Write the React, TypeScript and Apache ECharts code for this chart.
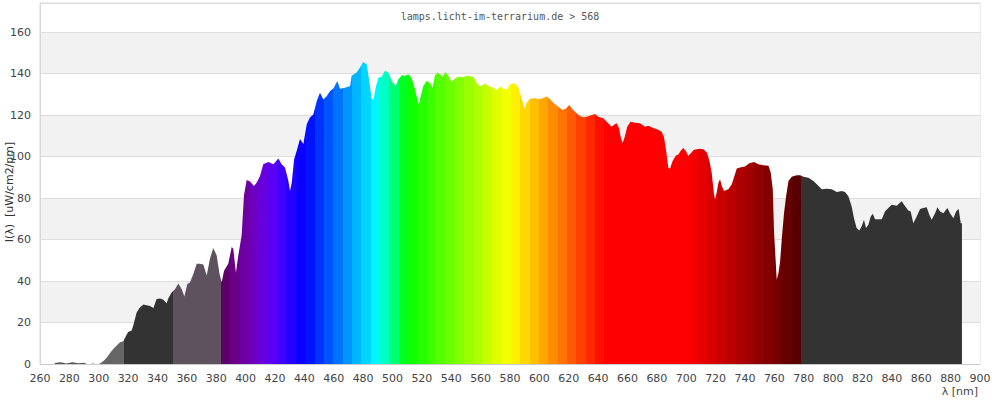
import React, { useEffect, useRef } from "react";
import * as echarts from "echarts";

// Wavelength (nm) sample positions
const wavelengths = [
  270, 274, 278, 282, 286, 290, 293, 296, 299, 300.8, 303, 305.4, 307.7, 310, 312.2, 314.5, 316.7,
  318, 320, 322.4, 323.5, 325.8, 328, 330.4, 332.6, 334.9, 337.2, 339.4, 341.7, 344, 346.2, 347.4, 349.6,
  351.9, 354.2, 356.5, 358.3, 360.3, 362.1, 364.4, 366.7, 368.9, 371.2, 373.5, 375.7, 378, 380.3, 382.1,
  383.7, 385.3, 388.2, 390.5, 391.6, 393.4, 395, 397.3, 398.9, 400.7, 403, 405.7, 407.5, 409.8, 412,
  415.5, 418.9, 422.3, 424.5, 426.8, 429.1, 430.2, 431.4, 433, 434.8, 437, 439.3, 441.6, 443.8, 446.1,
  448.4, 450.6, 452.9, 455.2, 457.4, 460, 462.4, 464.3, 467.7, 471.1, 472.2, 475.6, 477.9, 480.1, 482.4,
  484.2, 485.8, 487, 488.8, 490.4, 492.6, 494.9, 497.2, 499.4, 502.2, 504, 506.3, 508.5, 510.8, 513.1,
  515.3, 516.9, 518, 519.2, 521, 523.3, 525.5, 527.3, 528.9, 530.5, 532.3, 533.9, 536.2, 538, 540.3,
  542.5, 544.8, 548.2, 550.5, 555, 557.3, 559.6, 563, 565.3, 568.7, 571, 573.3, 575.6, 577.8, 580.1,
  583.5, 585.8, 588, 589.9, 591.4, 593.7, 597.1, 600.5, 605, 607.3, 609.5, 612.9, 615.8, 618.1, 620.4,
  622.6, 625.4, 627.6, 629.9, 632.2, 635.6, 637.8, 640.1, 643.5, 645.8, 649.2, 651.4, 652.6, 654.2,
  655.5, 656.7, 658.2, 659.8, 662.1, 665, 668.5, 671.9, 674.1, 677.5, 680.9, 683.2, 684.8, 686.2, 687.8,
  688.9, 690.7, 693, 694.6, 696.4, 698, 699.8, 701.4, 703, 705.2, 709.3, 711.7, 714, 715.8, 717.3, 718.9,
  719.6, 720.7, 721.9, 723, 724.2, 725.7, 728.7, 731, 732.1, 734.4, 736.6, 740, 743, 746.2, 749.1, 752.5,
  756, 757.5, 758.9, 759.8, 760.7, 761.6, 762.8, 763.9, 765, 766.6, 768, 769.6, 771.8, 775.2, 777.5,
  779.8, 783.2, 786.6, 788.9, 792.3, 795.7, 799.1, 802.5, 805.9, 808.1, 810.4, 812.6, 814.2, 816, 817.8,
  819.4, 821, 822.4, 824, 825.6, 827, 828.5, 830.8, 833.1, 835.3, 837.6, 839.9, 843.3, 846.7, 849, 851.2,
  852.8, 854.6, 856.9, 859.2, 861.4, 863.7, 865.5, 867.1, 869.4, 871, 872.8, 875.1, 877.8, 879.6, 881.9,
  883.7, 885.5, 886.9, 887.7,
];

// Spectral irradiance I(λ) [uW/cm2/pm] at each wavelength above
const intensities = [
  0.5, 0.8, 0.3, 0.9, 0.4, 0.6, -0.4, 0.3, -0.3, 0.3, 1.3, 3, 5.3, 7.3, 8.9, 10.5, 11,
  12.8, 15.4, 16.2, 18.6, 24.8, 27.2, 28.7, 28.3, 28, 27, 31.3, 31.6, 31, 29.3, 31.7, 34.5,
  36, 38.8, 36, 32.5, 38.5, 39.3, 43.4, 48.3, 48.3, 48, 42.6, 50.7, 55.9, 52.3, 44,
  39.3, 45, 48.3, 56.4, 55.5, 44, 52.3, 62, 81.5, 88.7, 88, 85.8, 87.4, 90.6, 96.3,
  97.4, 96.3, 99, 96.3, 94.7, 88.2, 83.4, 87.4, 98.7, 102.8, 108.4, 106, 115.6, 118.8, 120.3,
  126.7, 130.7, 127.5, 129.1, 131.5, 133, 136.4, 132.7, 133.2, 134, 138.9, 140.5, 142.9, 145.6, 144.5,
  136.4, 127.9, 127.5, 134, 138, 138.4, 141.3, 140.5, 136.4, 134, 137.2, 139.2, 138.9, 139.7, 137.6,
  132.4, 127.6, 125.2, 129.2, 134, 136.5, 135.6, 133.2, 138.9, 140.5, 139.7, 138.5, 140.8, 138.9, 136,
  137.6, 138.5, 138.2, 138.9, 138.5, 135.6, 133.7, 135.2, 134, 133.2, 131.9, 133.7, 132.7, 132.4, 134.8,
  135.3, 133.2, 127.6, 123.2, 126, 127.9, 128.1, 127.6, 128.9, 127.6, 125.9, 124, 122.4, 123.2, 124.8,
  122.7, 120.8, 119.5, 118.9, 119.2, 120, 120.5, 119.2, 118.4, 116.8, 114.4, 115.6, 116, 113.7,
  108.9, 106.5, 109.7, 114.4, 116.8, 116.3, 116, 114.4, 114.8, 113.7, 112.9, 112, 109.4, 103.3, 94.6,
  94.1, 97.8, 100.5, 101, 102.9, 104.1, 102.5, 100.2, 101.4, 103.3, 103.7, 103.5, 101.9, 97.9, 92.3, 81.8,
  79.4, 82.6, 87.4, 89, 85.8, 83.4, 84.2, 86.6, 89, 94.2, 94.7, 95.2, 96.8, 97.4, 96.3, 95.8,
  95.5, 92.3, 84.2, 63.2, 51.9, 40.6, 43.9, 49.5, 60, 72.9, 81, 88.2, 90.3, 91, 91,
  90.3, 89.8, 88.2, 86.6, 84.2, 84.5, 84.2, 82.9, 83.4, 82.9, 80.8, 76, 70.3, 65.5, 64.4,
  66.3, 69.5, 65.5, 67.1, 71.1, 72.4, 69.8, 69.8, 69.8, 73.5, 75.2, 76.8, 76.3, 78.4, 76, 74,
  73.5, 67.9, 71.1, 74.7, 75.2, 75.6, 71.9, 69.5, 72.7, 75.6, 73.5, 72.7, 75.2, 72.7, 70.3,
  73.5, 74.7, 67.9, 67.9,
];

const titleText = "lamps.licht-im-terrarium.de > 568";
const yAxisName = "I(λ)  [uW/cm2/pm]";
const xAxisName = "λ [nm]";

// Non-spectral colour bands (nm)
const greyBands = [
  { from: 260, to: 300.8, color: "#555555" },
  { from: 300.8, to: 317.2, color: "#666666" },
  { from: 317.2, to: 350.3, color: "#333333" },
  { from: 350.3, to: 383.2, color: "#5e525e" },
  { from: 778.1, to: 900, color: "#333333" },
];
const spectralStart = 383.2;
const spectralEnd = 778.1;
const spectralBandCount = 62;

function spectrumColor(l: number): string {
  let r = 0, g = 0, b = 0;
  if (l < 440) { r = -(l - 440) / 60; b = 1; }
  else if (l < 490) { g = (l - 440) / 50; b = 1; }
  else if (l < 510) { g = 1; b = -(l - 510) / 20; }
  else if (l < 580) { r = (l - 510) / 70; g = 1; }
  else if (l < 645) { r = 1; g = -(l - 645) / 65; }
  else { r = 1; }
  let f = 1;
  if (l < 420) f = 0.3 + (0.7 * (l - 380)) / 40;
  else if (l > 700) f = 0.3 + (0.7 * (780 - l)) / 80;
  const c = (v: number) => Math.max(0, Math.min(255, Math.round(255 * v * f)));
  return `rgb(${c(r)},${c(g)},${c(b)})`;
}

function buildPieces() {
  const pieces: any[] = [];
  greyBands.slice(0, 4).forEach((b) => pieces.push({ gte: b.from, lt: b.to, color: b.color }));
  const w = (spectralEnd - spectralStart) / spectralBandCount;
  for (let i = 0; i < spectralBandCount; i++) {
    const a = spectralStart + i * w;
    const e = i === spectralBandCount - 1 ? spectralEnd : a + w;
    pieces.push({ gte: a, lt: e, color: spectrumColor(a + w / 2) });
  }
  const last = greyBands[4];
  pieces.push({ gte: last.from, lte: last.to, color: last.color });
  return pieces;
}

export default function App() {
  const ref = useRef<HTMLDivElement>(null);
  useEffect(() => {
    document.body.style.margin = "0";
    if (!ref.current) return;
    const chart = echarts.init(ref.current, undefined, { renderer: "svg" });
    const axisFont = "DejaVu Sans";
    chart.setOption({
      animation: false,
      backgroundColor: "#ffffff",
      title: {
        text: titleText,
        left: "center",
        top: 6,
        textStyle: { fontFamily: "DejaVu Sans Mono", fontSize: 10, fontWeight: "normal", color: "#555" },
      },
      grid: {
        left: 40,
        right: 20,
        top: 3,
        bottom: 36,
        containLabel: false,
        outerBoundsMode: "none",
        show: true,
        borderColor: "#d8d8d8",
        borderWidth: 1,
      },
      visualMap: {
        type: "piecewise",
        show: false,
        dimension: 0,
        seriesIndex: 0,
        pieces: buildPieces(),
      },
      xAxis: {
        type: "value",
        min: 260,
        max: 900,
        interval: 20,
        axisLine: { show: true, lineStyle: { color: "#cccccc" } },
        axisTick: { show: false },
        splitLine: { show: false },
        axisLabel: { color: "#444", fontSize: 11, fontFamily: axisFont, margin: 9 },
      },
      yAxis: {
        type: "value",
        min: 0,
        max: 174,
        interval: 20,
        axisLine: { show: true, lineStyle: { color: "#d8d8d8" } },
        axisTick: { show: false },
        axisLabel: { color: "#444", fontSize: 11, fontFamily: axisFont, margin: 9, showMaxLabel: false },
        splitLine: { show: true, lineStyle: { color: "#dddddd" } },
        splitArea: { show: true, areaStyle: { color: ["#ffffff", "#f2f2f2"] } },
      },
      graphic: [
        {
          type: "text",
          right: 22,
          top: 386,
          style: { text: xAxisName, fill: "#444", font: `11px ${axisFont}` },
        },
        {
          type: "text",
          x: 9,
          y: 192,
          rotation: Math.PI / 2,
          style: {
            text: yAxisName,
            fill: "#333",
            font: `11px ${axisFont}`,
            align: "center",
            verticalAlign: "middle",
          },
        },
      ],
      series: [
        {
          type: "line",
          data: wavelengths.map((w, i) => [w, intensities[i]]),
          symbol: "none",
          showSymbol: false,
          silent: true,
          lineStyle: { width: 0 },
          areaStyle: { opacity: 1 },
        },
      ],
    });
    return () => chart.dispose();
  }, []);
  return <div ref={ref} style={{ width: 1000, height: 400 }} />;
}
